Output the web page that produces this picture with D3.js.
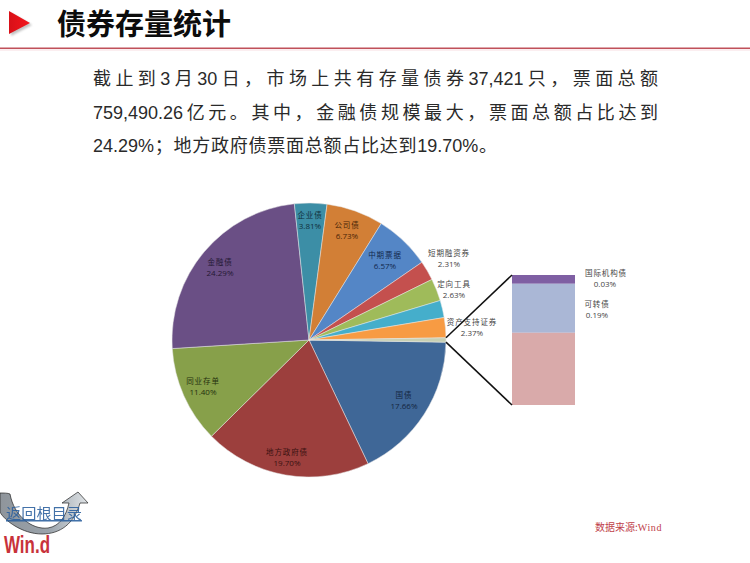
<!DOCTYPE html>
<html><head><meta charset="utf-8">
<script src="https://cdn.jsdelivr.net/npm/d3@7"></script>
<style>html,body{margin:0;padding:0;background:#fff}svg{display:block}</style>
</head><body><svg id="c" width="750" height="563"></svg>
<script>
// ---- data ----
const sliceNames = ["国债","地方政府债","同业存单","金融债","企业债","公司债","中期票据","短期融资券","定向工具","未标注","资产支持证券"];
const sliceValues = [17.66,19.70,11.40,24.29,3.81,6.73,6.57,2.31,2.63,2.03,2.37];
const stackNames = ["国际机构债","可转债","未标注"];
const stackValues = [0.034,0.19,0.28];
const bodyLines = [
  "截止到3月30日，市场上共有存量债券37,421只，票面总额",
  "759,490.26亿元。其中，金融债规模最大，票面总额占比达到",
  "24.29%；地方政府债票面总额占比达到19.70%。"
];
const titleText = "债券存量统计";
const sourceLabel = "数据来源:";
const sourceName = "Wind";
const backLink = "返回根目录";
const logoText = "Win.d";

// ---- styles / layout (kept apart from data) ----
const sliceColors = ["#3f6797","#9c3f3d","#87a04a","#6a4f85","#3c8ea6","#d27f36","#5486c6","#c4504e","#9fbb5a","#45aecb","#f79b43"];
const restColor = "#c8d0b4";
const stackColors = ["#7f5fa3","#aab7d6","#d9aaaa"];
const labelAt = {"国债":[404,395],"地方政府债":[287,452],"同业存单":[203,381],"金融债":[220,262],"企业债":[310,215],
  "公司债":[347,225],"中期票据":[385,255],"短期融资券":[449,253],"定向工具":[454,284],"资产支持证券":[472,322]};
const labelInk = {"国债":"#14263f","地方政府债":"#3a1211","同业存单":"#26300f","金融债":"#241833","企业债":"#10303c",
  "公司债":"#4a2608","中期票据":"#12294d","短期融资券":"#444","定向工具":"#444","资产支持证券":"#444"};
const stackLabelAt = {"国际机构债":[606,273],"可转债":[597,304]};
const cx=309, cy=340, R=137;
const sans = '"Liberation Sans","Noto Sans CJK SC",sans-serif';
const cjk = '"Noto Sans CJK SC",sans-serif';

const svg = d3.select("#c");
const defs = svg.append("defs");
const tri = defs.append("linearGradient").attr("id","tri").attr("x1",0).attr("x2",1).attr("y1",0).attr("y2",0);
tri.append("stop").attr("offset","0").attr("stop-color","#d81018");
tri.append("stop").attr("offset","1").attr("stop-color","#f4161c");
const arrowG = defs.append("linearGradient").attr("id","arr").attr("x1",0).attr("x2",1).attr("y1",0).attr("y2",0);
arrowG.append("stop").attr("offset","0").attr("stop-color","#8f959b");
arrowG.append("stop").attr("offset","0.55").attr("stop-color","#9aa3ab");
arrowG.append("stop").attr("offset","1").attr("stop-color","#dfe3e6");
defs.append("filter").attr("id","soft").append("feGaussianBlur").attr("stdDeviation",1.2);

// header
svg.append("path").attr("d","M11,13L32,25L11,36Z").attr("fill","#999").attr("opacity",.6).attr("filter","url(#soft)");
svg.append("path").attr("d","M9,11L30,23L9,34Z").attr("fill","url(#tri)");
svg.append("text").attr("x",57).attr("y",35).attr("font-family",cjk).attr("font-weight",700).attr("font-size",29).attr("fill","#0c0c0c").text(titleText);
svg.append("rect").attr("x",0).attr("y",47.5).attr("width",750).attr("height",1.6).attr("fill","#c0505a");
svg.append("rect").attr("x",0).attr("y",49).attr("width",750).attr("height",2).attr("fill","#fbeef0");

// body paragraph: gaps go around CJK characters, digit runs stay tight
const bodyTarget = [565,565,404];
const bodyBase = [85,119,152];
const isCjk = c => /[^\x00-\x7f]/.test(c);
bodyLines.forEach((line,i)=>{
  const t = svg.append("text").attr("x",93).attr("y",bodyBase[i]).attr("font-family",sans).attr("font-size",18).attr("fill","#2a2a2a");
  const runs = line.match(/[\x00-\x7f]+|[^\x00-\x7f]+/g);
  const spans = runs.map(r=>t.append("tspan").text(r));
  const natural = t.node().getComputedTextLength();
  const nCjk = [...line].filter(isCjk).length;
  const latinBefore = runs.filter((r,j)=>!isCjk(r[0]) && j<runs.length-1).length;
  const sp = (bodyTarget[i]-natural)/(nCjk-1+latinBefore);
  spans.forEach((s,j)=>{
    if(isCjk(runs[j][0])){ s.attr("letter-spacing",sp); if(j>0) s.attr("dx",sp); }
  });
});

// pie
const startA = 90.9*Math.PI/180;
const restValue = d3.sum(stackValues);
const pie = d3.pie().sort(null).value(d=>d.v).startAngle(startA).endAngle(startA+2*Math.PI);
const pieData = sliceNames.map((n,i)=>({n,v:sliceValues[i],c:sliceColors[i]})).concat([{n:"其他",v:restValue,c:restColor}]);
const arcs = pie(pieData);
const arc = d3.arc().innerRadius(0).outerRadius(R);
const g = svg.append("g").attr("transform",`translate(${cx},${cy})`);
g.selectAll("path").data(arcs).join("path").attr("d",arc).attr("fill",d=>d.data.c).attr("stroke","#e6e6e6").attr("stroke-width",.5);

// bar-of-pie stack
const stackX=512, stackW=63, stackTop=275, stackBottom=405;
const y = d3.scaleLinear().domain([0,restValue]).range([stackTop,stackBottom]);
let acc=0;
const stackData = stackValues.map((v,i)=>{const o={n:stackNames[i],v,c:stackColors[i],a:acc,b:acc+v};acc+=v;return o;});
svg.append("g").selectAll("rect").data(stackData).join("rect")
  .attr("x",stackX).attr("width",stackW).attr("y",d=>y(d.a)).attr("height",d=>y(d.b)-y(d.a)).attr("fill",d=>d.c);

// connector lines
const rest = arcs[arcs.length-1];
const edge = a => [cx+R*Math.sin(a), cy-R*Math.cos(a)];
const [e1x,e1y]=edge(rest.startAngle), [e2x,e2y]=edge(rest.endAngle);
const conn = svg.append("g").attr("stroke","#111").attr("stroke-width",1.5);
conn.append("line").attr("x1",e1x).attr("y1",e1y).attr("x2",stackX).attr("y2",stackTop);
conn.append("line").attr("x1",e2x).attr("y1",e2y).attr("x2",stackX).attr("y2",stackBottom);

// labels
function label(x,y0,name,val,ink,vx){
  svg.append("text").attr("x",x).attr("y",y0+3).attr("text-anchor","middle").attr("font-family",cjk).attr("font-size",7.5)
    .attr("letter-spacing",.9).attr("fill",ink).text(name);
  svg.append("text").attr("x",vx===undefined?x:vx).attr("y",y0+14).attr("text-anchor","middle").attr("font-family",'"Open Sans",sans-serif').attr("font-size",8)
    .attr("fill",ink).text(val.toFixed(2)+"%");
}
sliceNames.forEach((n,i)=>{ if(labelAt[n]) label(labelAt[n][0],labelAt[n][1],n,sliceValues[i],labelInk[n]); });
label(stackLabelAt["国际机构债"][0],stackLabelAt["国际机构债"][1],stackNames[0],stackValues[0],"#444",605);
label(stackLabelAt["可转债"][0],stackLabelAt["可转债"][1],stackNames[1],stackValues[1],"#444");

// source
const src = svg.append("text").attr("x",595).attr("y",531).attr("font-size",10).attr("fill","#c0414a").attr("font-family",cjk);
src.append("tspan").text(sourceLabel);
src.append("tspan").attr("font-family",'"Liberation Serif",serif').attr("letter-spacing",.6).text(sourceName);

// back-link logo
svg.append("path").attr("d","M0,493 C4,493 8,493 10,494 C14,516 32,530 48,528 C60,526 66,516 69,503 L62,503 L78,492 L88,503 L80,503 C74,524 60,534 42,534 C22,534 4,520 0,512 Z")
  .attr("fill","url(#arr)").attr("stroke","#222").attr("stroke-width",.7);
svg.append("text").attr("x",6).attr("y",519).attr("font-family",cjk).attr("font-size",15.2).attr("fill","#2a5f9e").attr("text-decoration","underline").attr("opacity",.88).text(backLink);
svg.append("text").attr("x",4).attr("y",553).attr("font-family",sans).attr("font-weight",700).attr("font-size",24)
  .attr("textLength",46).attr("lengthAdjust","spacingAndGlyphs").attr("fill","#c8323a").text(logoText);
</script></body></html>
